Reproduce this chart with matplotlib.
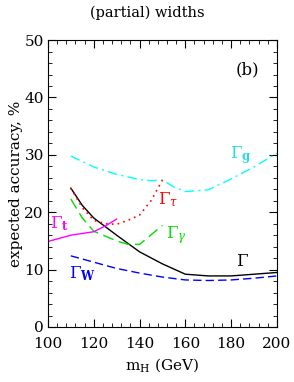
import matplotlib
matplotlib.use("Agg")
import matplotlib.pyplot as plt
from matplotlib.ticker import MultipleLocator

plt.rcParams['font.family'] = ['DejaVu Serif']
plt.rcParams['mathtext.fontset'] = 'dejavuserif'

# Data
mh_tot = [110, 115, 120, 130, 140, 150, 160, 170, 180, 190, 200]
acc_tot = [24.2, 21.2, 19.0, 16.0, 13.1, 11.0, 9.2, 8.9, 8.9, 9.2, 9.5]

mh_w = [110, 120, 130, 140, 150, 160, 170, 180, 190, 200]
acc_w = [12.4, 11.3, 10.2, 9.4, 8.7, 8.2, 8.1, 8.2, 8.5, 8.9]

mh_g = [110, 120, 130, 140, 145, 150, 155, 160, 170, 180, 190, 200]
acc_g = [29.8, 27.9, 26.6, 25.7, 25.5, 25.6, 24.4, 23.6, 23.9, 25.8, 27.9, 30.3]

mh_tau = [110, 115, 120, 125, 130, 135, 140, 145, 150]
acc_tau = [24.2, 20.8, 18.6, 18.0, 17.9, 18.6, 19.5, 22.0, 25.6]

mh_gam = [110, 115, 120, 130, 135, 140, 150]
acc_gam = [22.3, 19.0, 16.7, 15.0, 14.4, 14.4, 17.7]

mh_t = [100, 110, 120, 125, 130]
acc_t = [14.9, 16.0, 16.6, 17.6, 18.8]

fig = plt.figure(figsize=(2.94, 3.82), dpi=100)
ax = fig.add_axes([0.163, 0.144, 0.779, 0.751])

ax.plot(mh_tot, acc_tot, color='black', lw=1.0)
ax.plot(mh_w, acc_w, color='blue', lw=1.0, dashes=(6, 3))
ax.plot(mh_g, acc_g, color='cyan', lw=1.0, dashes=(7, 3, 1.5, 3))
ax.plot(mh_tau, acc_tau, color='red', lw=1.2, dashes=(1, 2.5))
ax.plot(mh_gam, acc_gam, color='#00dd00', lw=1.0, dashes=(8, 4))
ax.plot(mh_t, acc_t, color='magenta', lw=1.0)

fs = 12
ax.text(187, 44.8, '(b)', fontsize=12, ha='center', va='center')
ax.text(185, 11.5, r'$\Gamma$', fontsize=fs, ha='center', va='center', color='black')
ax.text(115, 9.3, r'$\Gamma_{\mathbf{W}}$', fontsize=fs, ha='center', va='center', color='blue')
ax.text(184, 30.0, r'$\Gamma_{\mathbf{g}}$', fontsize=fs, ha='center', va='center', color='#22dddd')
ax.text(152.5, 22.2, r'$\Gamma_{\tau}$', fontsize=fs, ha='center', va='center', color='red')
ax.text(156, 16.0, r'$\Gamma_{\gamma}$', fontsize=fs, ha='center', va='center', color='#00dd00')
ax.text(105, 18.0, r'$\Gamma_{\mathbf{t}}$', fontsize=fs, ha='center', va='center', color='magenta')

ax.set_xlim(100, 200)
ax.set_ylim(0, 50)
ax.xaxis.set_major_locator(MultipleLocator(20))
ax.xaxis.set_minor_locator(MultipleLocator(4))
ax.yaxis.set_major_locator(MultipleLocator(10))
ax.yaxis.set_minor_locator(MultipleLocator(2))
ax.tick_params(which='both', direction='in', top=True, right=True, labelsize=11)
ax.tick_params(which='major', length=6)
ax.tick_params(which='minor', length=3)
ax.tick_params(axis='x', which='major', pad=7)
ax.tick_params(axis='y', which='major', pad=3)
ax.set_xlabel(r'm$_{\mathrm{H}}$ (GeV)', fontsize=11, labelpad=4)
ax.set_ylabel('expected accuracy, %', fontsize=11, labelpad=1)
fig.text(0.5, 0.967, '(partial) widths', fontsize=10.5, ha='center', va='center')

fig.savefig('out.png', dpi=100)
